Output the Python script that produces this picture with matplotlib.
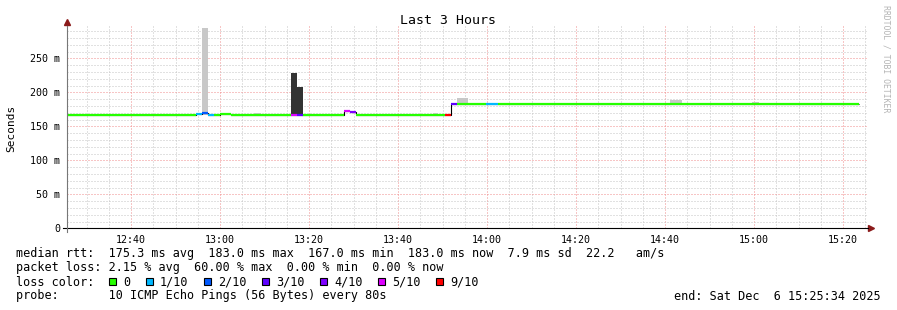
import datetime as dt
import matplotlib
matplotlib.use('Agg')
import matplotlib.pyplot as plt
import matplotlib.dates as mdates
from matplotlib.patches import Rectangle
from matplotlib.ticker import FixedLocator, FuncFormatter

# median rtt steps (ms), edges are HH:MM:SS on Sat Dec 6 2025
edges = ["12:25:34", "12:54:33", "12:55:54", "12:57:15", "12:58:36", "12:59:57",
         "13:02:25", "13:15:54", "13:17:15", "13:18:35", "13:27:49", "13:29:10",
         "13:30:30", "13:50:30", "13:51:51", "13:53:12", "13:59:44", "14:02:25",
         "15:23:33"]
median = [167, 168.5, 169, 166.5, 167, 168.5, 167, 167, 167, 167, 173, 170.5,
          167, 167, 183, 183, 183, 183]
loss = [0, 1, 2, 1, 0, 0, 0, 5, 3, 0, 5, 4, 0, 9, 3, 0, 1, 0]

# smoke (range of the single pings)
smoke_start = ["12:55:54", "13:07:35", "13:15:54", "13:17:15", "13:47:49",
               "13:53:12", "14:41:04", "14:59:30"]
smoke_end = ["12:57:15", "13:09:10", "13:17:15", "13:18:35", "13:48:56",
             "13:55:41", "14:43:46", "15:01:04"]
smoke_low = [167, 167, 167, 167, 167, 183, 183, 183]
smoke_high = [294.5, 170, 229, 208.5, 169, 192, 188, 185.5]

loss_labels = ['0', '1/10', '2/10', '3/10', '4/10', '5/10', '9/10']
loss_keys = [0, 1, 2, 3, 4, 5, 9]

legend_lines = [
    "median rtt:  175.3 ms avg  183.0 ms max  167.0 ms min  183.0 ms now  7.9 ms sd  22.2   am/s",
    "packet loss: 2.15 % avg  60.00 % max  0.00 % min  0.00 % now",
    "loss color:",
    "probe:       10 ICMP Echo Pings (56 Bytes) every 80s",
]
end_text = "end: Sat Dec  6 15:25:34 2025"

# styles
loss_colors = {0: '#26ff00', 1: '#00b8ff', 2: '#0059ff', 3: '#5e00ff',
               4: '#7e00ff', 5: '#dd00ff', 9: '#ff0000'}
smoke_colors = ['#c8c8c8', '#c8c8c8', '#333333', '#333333', '#c8c8c8',
                '#c8c8c8', '#c8c8c8', '#c8c8c8']
MONO = 'DejaVu Sans Mono'
W, H = 897, 310


def t(s):
    h, m, sec = map(int, s.split(':'))
    return mdates.date2num(dt.datetime(2025, 12, 6, h, m, sec))


def ftext(px, py, s, **kw):
    fig.text(px / W, 1 - py / H, s, family=MONO, **kw)


fig = plt.figure(figsize=(W / 100, H / 100), dpi=100)
ax = fig.add_axes([67 / W, 1 - 228.3 / H, 801 / W, 202.3 / H])

ax.set_xlim(t("12:25:34"), t("15:25:34"))
ax.set_ylim(0, 297.5)

# grid
ax.xaxis.set_major_locator(mdates.MinuteLocator(byminute=[0, 20, 40]))
ax.xaxis.set_minor_locator(mdates.MinuteLocator(byminute=[5, 10, 15, 25, 30, 35, 45, 50, 55]))
ax.xaxis.set_major_formatter(mdates.DateFormatter('%H:%M'))
ax.yaxis.set_major_locator(FixedLocator([0, 50, 100, 150, 200, 250]))
ax.yaxis.set_minor_locator(FixedLocator([v for v in range(10, 300, 10) if v % 50]))
ax.yaxis.set_major_formatter(FuncFormatter(lambda v, p: '0' if v == 0 else f'{int(v)} m'))
ax.grid(which='minor', color='#c4c4c4', lw=0.72, linestyle=(0, (1, 2)))
ax.grid(which='major', color='#f08c8c', lw=0.72, linestyle=(0, (1, 2)))
ax.set_axisbelow(True)
ax.tick_params(which='both', length=0)
ax.tick_params(axis='x', pad=4.5, labelsize=7.2)
ax.tick_params(axis='y', pad=5, labelsize=7.2)
for lab in ax.get_xticklabels() + ax.get_yticklabels():
    lab.set_family(MONO)
for sp in ax.spines.values():
    sp.set_visible(False)

# smoke
for s0, s1, lo, hi, c in zip(smoke_start, smoke_end, smoke_low, smoke_high, smoke_colors):
    ax.bar(t(s0), hi - lo, bottom=lo, width=t(s1) - t(s0), align='edge',
           color=c, lw=0, zorder=2)

# median line: black steps, coloured by loss
en = [t(e) for e in edges]
ax.stairs(median, en, baseline=None, color='black', lw=0.8, zorder=3)
ax.hlines(median, en[:-1], en[1:], colors=[loss_colors[l] for l in loss],
          lw=1.6, zorder=4, capstyle='butt')

# axes lines and arrows
ax.plot([-0.005, 1.0], [0, 0], color='black', lw=0.8, transform=ax.transAxes, clip_on=False, zorder=5)
ax.plot([0, 0], [-0.02, 1.0], color='#777777', lw=0.8, transform=ax.transAxes, clip_on=False, zorder=5)
ax.plot([0], [1.02], marker='^', ms=4, color='#8b1a1a', transform=ax.transAxes, clip_on=False)
ax.plot([1.004], [0], marker='>', ms=4, color='#8b1a1a', transform=ax.transAxes, clip_on=False)

# texts
ftext(447.5, 20, "Last 3 Hours", fontsize=9.5, ha='center', va='center')
ftext(11, 128, "Seconds", fontsize=8, rotation=90, ha='center', va='center')
ftext(886, 5, "RRDTOOL / TOBI OETIKER", fontsize=5.9, rotation=270,
      ha='center', va='top', color='#b4b4b4')

for i, line in enumerate(legend_lines):
    ftext(16, 254 + 14 * i, line, fontsize=8.5, ha='left', va='center')
ftext(881, 296, end_text, fontsize=8.5, ha='right', va='center')

x = 109
for lab, k in zip(loss_labels, loss_keys):
    fig.add_artist(Rectangle((x / W, 1 - 285.3 / H), 7 / W, 7 / H,
                             transform=fig.transFigure, facecolor=loss_colors[k],
                             edgecolor='black', lw=0.8))
    ftext(x + 14, 282, lab, fontsize=8.5, ha='left', va='center')
    x += 14 + 7 * len(lab) + 16

fig.savefig('out.png', dpi=100)
